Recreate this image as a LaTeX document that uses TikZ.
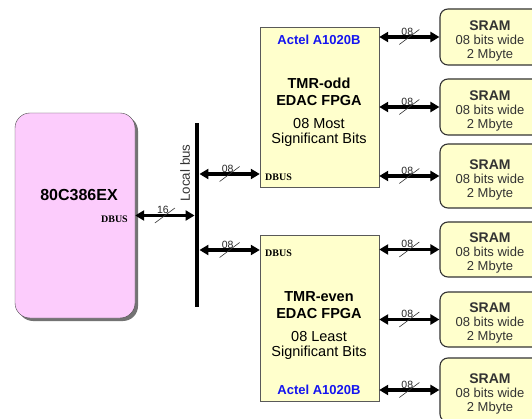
\documentclass[tikz,border=0pt]{standalone}
\usepackage{fontspec}
\setmainfont{Liberation Sans}
\newfontfamily\dbusfont{Liberation Serif}
\usepackage{tikz}
\usetikzlibrary{arrows.meta, shadows}

\definecolor{cpupink}{RGB}{252,204,252}
\definecolor{chipyellow}{RGB}{255,255,204}
\definecolor{actelblue}{RGB}{20,20,240}

\tikzset{
  cpubox/.style={draw=black!70, fill=cpupink, rounded corners=15pt, minimum width=120pt, minimum height=205pt, inner sep=0pt,
    drop shadow={shadow xshift=3pt, shadow yshift=-3pt, fill=black!55, opacity=1}},
  fpgabox/.style={draw=black!65, fill=chipyellow, minimum width=119pt, inner sep=0pt},
  srambox/.style={draw=black!80, line width=1.1pt, fill=chipyellow, rounded corners=8pt, minimum width=100pt, inner sep=0pt},
  sramtext/.style={align=center, font=\fontsize{13}{14}\selectfont, text=black!80, inner sep=0pt},
  fpgatext/.style={align=center, font=\fontsize{14.5}{17}\selectfont\bfseries, inner sep=0pt},
  actel/.style={font=\fontsize{13}{14}\selectfont\bfseries, text=actelblue, inner sep=0pt},
  dbus/.style={font=\fontsize{10}{10}\dbusfont\bfseries, inner sep=0pt},
  busarrow/.style={line width=3.8pt, {Triangle[length=9pt,width=10pt]}-{Triangle[length=9pt,width=10pt]}},
  pics/buswidth/.style={code={
    \node[font=\fontsize{10.5}{10.5}\selectfont, text=black!85, inner sep=0pt] at (-2pt,5.5pt) {#1};
    \draw[line width=0.6pt, black!80] (-10pt,-7.5pt) -- (10pt,7.5pt);
  }},
}

\begin{document}
\begin{tikzpicture}[x=1pt, y=-1pt]
  \clip (0,0) rectangle (532,419);
  \fill[white] (0,0) rectangle (532,419);

  % Nodes
  \node[cpubox] (cpu) at (75,215.5) {};
  \node[font=\fontsize{16}{16}\selectfont\bfseries, inner sep=0pt] (cpuname) at (79,195) {80C386EX};
  \node[dbus, anchor=east] (cpudbus) at (128,219) {DBUS};

  \node[fill=black, minimum width=4.5pt, minimum height=184pt, inner sep=0pt] (bus) at (197,215) {};
  \node[rotate=90, font=\fontsize{13.3}{14}\selectfont, text=black!80, inner sep=0pt] (buslabel) at (185,173) {Local bus};

  \node[fpgabox, minimum height=160pt] (fpga1) at (319.5,107) {};
  \node[actel] (actel1) at (319,40) {Actel A1020B};
  \node[fpgatext] (odd) at (319,112) {TMR-odd\\EDAC FPGA\\[6pt]{\mdseries 08 Most}\\[-2pt]{\mdseries Significant Bits}};
  \node[dbus, anchor=west] (dbus1) at (265,177) {DBUS};

  \node[fpgabox, minimum height=166pt] (fpga2) at (319.5,318) {};
  \node[dbus, anchor=west] (dbus2) at (265,253) {DBUS};
  \node[fpgatext] (even) at (319,326) {TMR-even\\EDAC FPGA\\[6pt]{\mdseries 08 Least}\\[-2pt]{\mdseries Significant Bits}};
  \node[actel] (actel2) at (319,390) {Actel A1020B};

  \node[srambox, minimum height=56pt] (s1) at (490,37) {};
  \node[srambox, minimum height=56pt] (s2) at (490,107) {};
  \node[srambox, minimum height=64pt] (s3) at (490,176) {};
  \node[srambox, minimum height=55pt] (s4) at (490,249.5) {};
  \node[srambox, minimum height=55pt] (s5) at (490,319.5) {};
  \node[srambox, minimum height=64pt] (s6) at (490,390) {};
  \foreach \s in {s1,s2,s3,s4,s5,s6}
    \node[sramtext] (\s text) at ([yshift=-3.5pt]\s.center) {{\fontsize{14}{14}\selectfont\bfseries SRAM}\\08 bits wide\\2 Mbyte};

  % Lines
  \draw[busarrow] (cpu.east) -- (cpu.east -| bus.west) coordinate[midway] (w0);
  \draw[busarrow] (bus.east |- 0,174) -- (fpga1.west |- 0,174) coordinate[midway] (w1);
  \draw[busarrow] (bus.east |- 0,250) -- (fpga2.west |- 0,250) coordinate[midway] (w2);
  \pic at (w0) {buswidth=16};
  \pic at (w1) {buswidth=08};
  \pic at (w2) {buswidth=08};

  \foreach \f/\s in {fpga1/s1,fpga1/s2,fpga1/s3,fpga2/s4,fpga2/s5,fpga2/s6}{
    \draw[busarrow] (\f.east |- \s.west) -- (\s.west) coordinate[midway] (w\s);
    \pic at (w\s) {buswidth=08};
  }
\end{tikzpicture}
\end{document}
